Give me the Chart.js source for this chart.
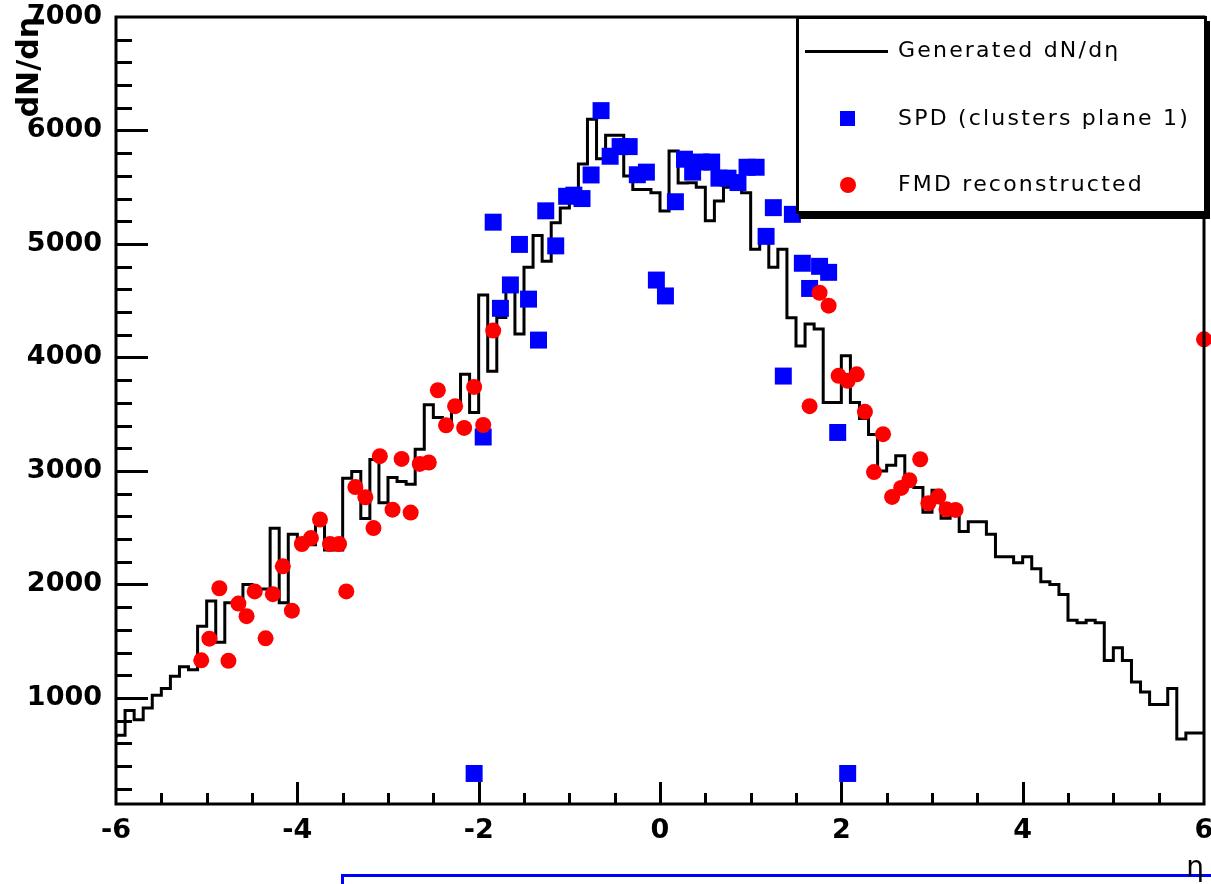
<!DOCTYPE html>
<html>
<head>
<meta charset="utf-8">
<title>dN/dη</title>
<script src="https://cdn.jsdelivr.net/npm/chart.js@4.4.0/dist/chart.umd.min.js"></script>
<style>
  html, body { margin: 0; padding: 0; background: #fff; }
  #wrap { position: relative; width: 1211px; height: 884px; overflow: hidden; }
  #etaChart { position: relative; z-index: 1; }
  #legend {
    position: absolute; z-index: 2; left: 796px; top: 16px; width: 411px; height: 198px;
    box-sizing: border-box; border: 3px solid #000; background: #fff;
    box-shadow: 3px 5px 0 #000;
    font: 22px "DejaVu Sans", sans-serif; letter-spacing: 2.2px; color: #000;
  }
  #legend .txt { position: absolute; left: 99px; height: 24px; line-height: 24px; white-space: nowrap; }
  #legend .line { position: absolute; left: 6px; top: 31px; width: 83px; height: 3px; background: #000; }
  #legend .sq { position: absolute; left: 41px; top: 92px; width: 15px; height: 15px; background: #0000ff; }
  #legend .dot { position: absolute; left: 41px; top: 158px; width: 16px; height: 16px; border-radius: 50%; background: #ff0000; }
  #pad2 { position: absolute; z-index: 0; left: 341px; top: 874px; width: 900px; height: 40px;
          border-top: 3px solid #0000ff; border-left: 3px solid #0000ff; }
</style>
</head>
<body>
<div id="wrap">
  <div id="pad2"></div>
  <canvas id="etaChart"></canvas>
  <div id="legend">
    <div class="line"></div><div class="txt" style="top:19px">Generated dN/dη</div>
    <div class="sq"></div><div class="txt" style="top:87px">SPD (clusters plane 1)</div>
    <div class="dot"></div><div class="txt" style="top:153px">FMD reconstructed</div>
  </div>
</div>
<script>
// generated dN/deta, 120 bins of 0.1 from eta = -6 to 6
const etaMin = -6;
const binWidth = 0.1;
const genCounts = [
   647,  670,  890,  808,  912, 1023, 1082, 1191, 1274, 1247,
  1632, 1853, 1491, 1838, 1835, 2000, 1960, 1960, 2494, 1838,
  2441, 2400, 2350, 2523, 2303, 2303, 2935, 2995, 2580, 3100,
  2720, 2942, 2906, 2883, 3192, 3583, 3470, 3420, 3604, 3853,
  3515, 4550, 3878, 4352, 4607, 4207, 4795, 5074, 4848, 5186,
  5318, 5430, 5704, 6098, 5750, 5957, 5957, 5600, 5481, 5481,
  5452, 5290, 5820, 5537, 5540, 5500, 5205, 5378, 5500, 5481,
  5452, 4954, 5093, 4795, 4954, 4350, 4100, 4295, 4251, 3604,
  3604, 4015, 3604, 3463, 3320, 3000, 3050, 3133, 2883, 2853,
  2635, 2830, 2582, 2662, 2466, 2553, 2553, 2441, 2244, 2244,
  2191, 2244, 2138, 2024, 2000, 1912, 1685, 1662, 1685, 1662,
  1329, 1441, 1329, 1141, 1053,  941,  941, 1082,  638,  691
];

// SPD, clusters on plane 1
const spdEta = [
  -2.05, -1.95, -1.84, -1.76, -1.65, -1.55, -1.45, -1.34, -1.26, -1.15,
  -1.03, -0.95, -0.86, -0.76, -0.65, -0.55, -0.44, -0.34, -0.25, -0.15,
  -0.04,  0.06,  0.17,  0.27,  0.36,  0.45,  0.57,  0.65,  0.75,  0.86,
   0.96,  1.06,  1.17,  1.25,  1.36,  1.46,  1.57,  1.65,  1.76,  1.86,
   1.96,  2.07
];
const spdCounts = [
   334, 3299, 5192, 4433, 4639, 4996, 4514, 4153, 5292, 4983,
  5420, 5430, 5400, 5608, 6175, 5773, 5858, 5858, 5610, 5633,
  4682, 4542, 5372, 5747, 5633, 5722, 5722, 5580, 5580, 5541,
  5676, 5676, 5067, 5320, 3836, 5261, 4830, 4608, 4803, 4750,
  3339,  334
];

// FMD reconstructed
const fmdEta = [
  -5.06, -4.97, -4.86, -4.76, -4.65, -4.56, -4.47, -4.35, -4.27, -4.16,
  -4.06, -3.95, -3.85, -3.75, -3.64, -3.54, -3.46, -3.36, -3.25, -3.16,
  -3.09, -2.95, -2.85, -2.75, -2.65, -2.55, -2.45, -2.36, -2.26, -2.16,
  -2.05, -1.95, -1.84,
   1.65,  1.76,  1.86,  1.97,  2.07,  2.17,  2.26,  2.36,  2.46,  2.56,
   2.66,  2.75,  2.87,  2.96,  3.07,  3.16,  3.26,  6.0
];
const fmdCounts = [
  1331, 1522, 1966, 1327, 1831, 1720, 1938, 1525, 1914, 2159,
  1769, 2356, 2408, 2572, 2356, 2356, 1938, 2858, 2768, 2496,
  3130, 2659, 3106, 2633, 3062, 3074, 3711, 3402, 3571, 3379,
  3740, 3405, 4237,
  3571, 4570, 4456, 3838, 3794, 3851, 3521, 2990, 3324, 2771,
  2850, 2918, 3103, 2715, 2774, 2662, 2656, 4160
];

const xTicks = [-6, -4, -2, 0, 2, 4, 6];
const yTicks = [1000, 2000, 3000, 4000, 5000, 6000, 7000];

// histogram as a stepped line: one point per bin low edge plus the closing edge
const genPoints = genCounts.map((v, i) => ({ x: etaMin + i * binWidth, y: v }));
genPoints.push({ x: etaMin + genCounts.length * binWidth, y: genCounts[genCounts.length - 1] });

const spdPoints = spdEta.map((e, i) => ({ x: e, y: spdCounts[i] }));
const fmdPoints = fmdEta.map((e, i) => ({ x: e, y: fmdCounts[i] }));

// box around the plot and inward tick marks, major and minor
const frameTicks = {
  id: 'frameTicks',
  afterDatasetsDraw(chart) {
    const { ctx, chartArea: area, scales: { x, y } } = chart;
    ctx.save();
    ctx.strokeStyle = '#000';
    ctx.lineWidth = 3;
    ctx.beginPath();
    for (let v = 200; v < 7000; v += 200) {
      const len = v % 1000 === 0 ? 32 : 16;
      const py = Math.round(y.getPixelForValue(v)) + 0.5;
      ctx.moveTo(area.left, py);
      ctx.lineTo(area.left + len, py);
    }
    for (let k = 1; k < 24; k++) {
      const v = -6 + k * 0.5;
      const len = k % 4 === 0 ? 22 : 11;
      const px = Math.round(x.getPixelForValue(v)) + 0.5;
      ctx.moveTo(px, area.bottom);
      ctx.lineTo(px, area.bottom - len);
    }
    ctx.stroke();
    ctx.strokeRect(area.left, area.top, area.width, area.height);
    ctx.restore();
  }
};

const tickFont = { family: 'DejaVu Sans', weight: 'bold', size: 27 };

new Chart(document.getElementById('etaChart'), {
  type: 'scatter',
  data: {
    datasets: [
      {
        label: 'FMD reconstructed',
        data: fmdPoints,
        pointStyle: 'circle',
        pointRadius: 8,
        pointBackgroundColor: '#ff0000',
        pointBorderWidth: 0,
        clip: false,
        order: 0
      },
      {
        label: 'SPD (clusters plane 1)',
        data: spdPoints,
        pointStyle: 'rect',
        pointRadius: 12,
        pointBackgroundColor: '#0000ff',
        pointBorderWidth: 0,
        order: 1
      },
      {
        type: 'line',
        label: 'Generated dN/dη',
        data: genPoints,
        stepped: 'after',
        borderColor: '#000',
        borderWidth: 3,
        pointRadius: 0,
        fill: false,
        order: 2
      }
    ]
  },
  options: {
    responsive: true,
    maintainAspectRatio: false,
    animation: false,
    events: [],
    layout: { autoPadding: false, padding: { top: 17, right: 7, left: 0, bottom: 0 } },
    plugins: { legend: { display: false }, tooltip: { enabled: false } },
    scales: {
      x: {
        type: 'linear',
        min: -6,
        max: 6,
        afterBuildTicks: s => { s.ticks = xTicks.map(v => ({ value: v })); },
        afterFit: s => {
          s.height = 80;
          s.paddingLeft = 0;
          s.paddingRight = 0;
        },
        grid: { display: false, drawTicks: false },
        border: { display: false },
        ticks: {
          autoSkip: false, maxRotation: 0, padding: 11,
          color: '#000', font: tickFont,
          callback: v => String(v)
        },
        title: {
          display: true, text: 'η', align: 'end', color: '#000',
          font: { family: 'DejaVu Sans', size: 28 },
          padding: { top: 0, bottom: -2 }
        }
      },
      y: {
        type: 'linear',
        min: 65,
        max: 7000,
        afterBuildTicks: s => { s.ticks = yTicks.map(v => ({ value: v })); },
        afterFit: s => {
          s.width = 116;
          s.paddingTop = 0;
          s.paddingBottom = 0;
        },
        grid: { display: false, drawTicks: false },
        border: { display: false },
        ticks: {
          autoSkip: false, padding: 14,
          color: '#000', font: tickFont,
          callback: v => String(v)
        },
        title: {
          display: true, text: 'dN/dη', align: 'end', color: '#000',
          font: { family: 'DejaVu Sans', weight: 'bold', size: 30 },
          padding: { top: 12, bottom: 0 }
        }
      }
    }
  },
  plugins: [frameTicks]
});
</script>
</body>
</html>
